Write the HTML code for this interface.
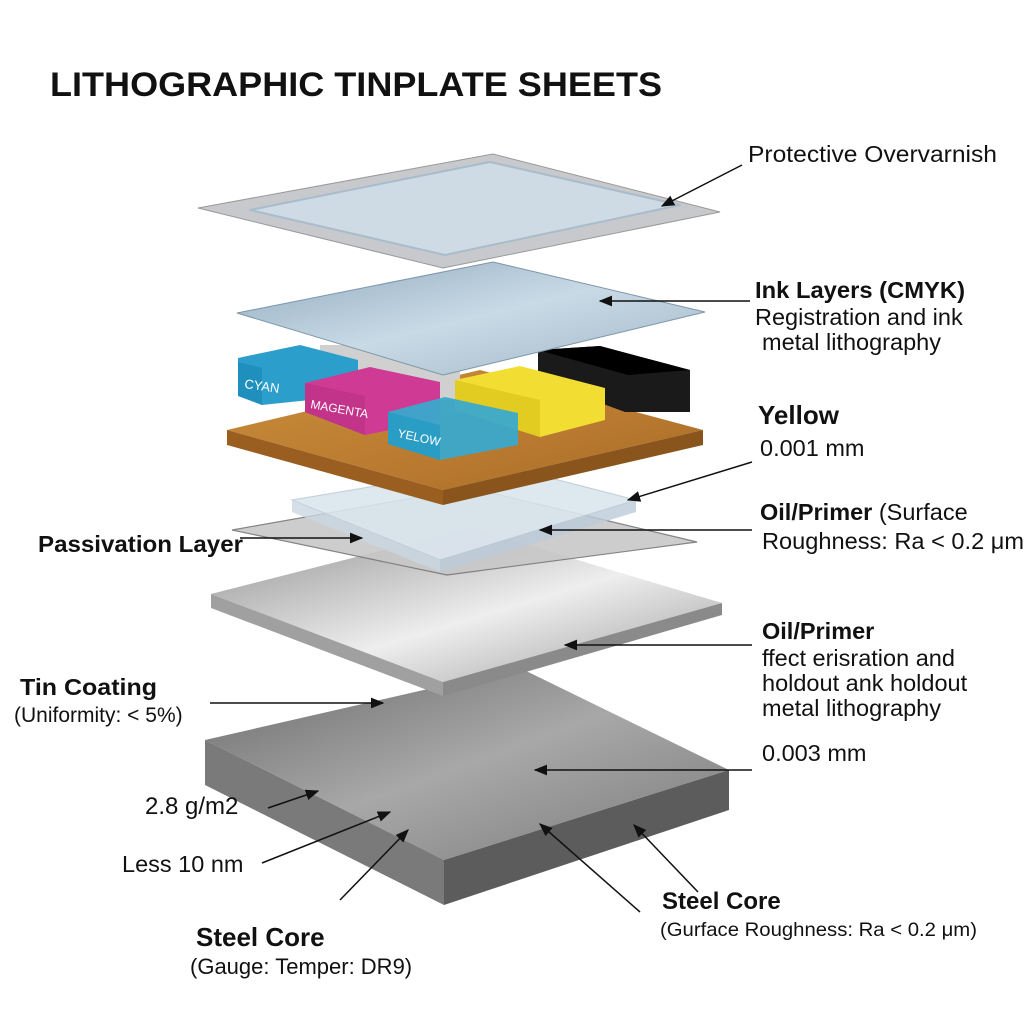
<!DOCTYPE html>
<html><head><meta charset="utf-8"><style>
html,body{margin:0;padding:0;background:#fff;}
svg{display:block}
text{font-family:"Liberation Sans",sans-serif;fill:#111}
.b{font-weight:bold}
</style></head><body>
<svg width="1024" height="1024" viewBox="0 0 1024 1024" xmlns="http://www.w3.org/2000/svg">
<defs>
<marker id="ar" viewBox="0 0 10 10" refX="9" refY="5" markerWidth="9" markerHeight="9" orient="auto-start-reverse"><path d="M0,1 L10,5 L0,9 z" fill="#111"/></marker>
<linearGradient id="steel" x1="0" y1="0" x2="1" y2="1"><stop offset="0" stop-color="#6a6a6a"/><stop offset="0.5" stop-color="#a8a8a8"/><stop offset="1" stop-color="#7a7a7a"/></linearGradient>
<linearGradient id="silver" x1="0" y1="0" x2="1" y2="1"><stop offset="0" stop-color="#8f8f8f"/><stop offset="0.55" stop-color="#eeeeee"/><stop offset="1" stop-color="#9a9a9a"/></linearGradient>
<linearGradient id="blue" x1="0" y1="0" x2="1" y2="1"><stop offset="0" stop-color="#8fa9bd"/><stop offset="0.5" stop-color="#c9dae6"/><stop offset="1" stop-color="#9fb5c6"/></linearGradient>
<linearGradient id="cork" x1="0" y1="0" x2="1" y2="1"><stop offset="0" stop-color="#c98d3a"/><stop offset="0.6" stop-color="#b97a30"/><stop offset="1" stop-color="#a76a25"/></linearGradient>
</defs>

<text x="50" y="96" font-size="34" class="b" textLength="612" lengthAdjust="spacingAndGlyphs">LITHOGRAPHIC TINPLATE SHEETS</text>

<polygon points="205,740 520,668 729,770 444,860" fill="url(#steel)"/>
<polygon points="205,740 444,860 444,905 205,785" fill="#7a7a7a"/>
<polygon points="444,860 729,770 729,810 444,905" fill="#5c5c5c"/>

<polygon points="211,594 470,528 722,603 443,682" fill="url(#silver)"/>
<polygon points="211,594 443,682 443,696 211,608" fill="#a0a0a0"/>
<polygon points="443,682 722,603 722,615 443,696" fill="#8a8a8a"/>

<polygon points="232,530 470,488 697,542 447,575" fill="#c8c8c8" stroke="#777" stroke-width="1.2" opacity="0.9"/>
<polygon points="292,500 500,465 636,500 440,560" fill="#dbe6ee" stroke="#b9c9d6" stroke-width="1" opacity="0.9"/>
<polygon points="292,500 440,560 440,572 292,512" fill="#c9d7e2" opacity="0.8"/>
<polygon points="440,560 636,500 636,512 440,572" fill="#bccbd8" opacity="0.8"/>

<polygon points="227,430 480,370 703,430 443,490" fill="url(#cork)"/>
<polygon points="227,430 443,490 443,505 227,445" fill="#9a5f20"/>
<polygon points="443,490 703,430 703,445 443,505" fill="#8a551c"/>

<polygon points="320,345 460,345 460,400 320,400" fill="#d0d0d0"/>
<polygon points="538,350 600,346 690,370 690,412 625,412 538,380" fill="#1a1a1a"/>
<polygon points="538,350 600,346 690,370 628,375" fill="#000"/>
<polygon points="238,358 300,345 358,360 358,395 262,405 238,395" fill="#2b9ecb"/>
<polygon points="238,362 262,368 262,405 238,396" fill="#1f8fbe"/>
<text x="244" y="388" font-size="13" style="fill:#fff" transform="rotate(8 244 388)">CYAN</text>
<polygon points="305,383 370,367 440,382 440,420 365,435 305,412" fill="#cf3a94"/>
<polygon points="305,383 365,396 365,435 305,412" fill="#c2338a"/>
<text x="310" y="408" font-size="12" style="fill:#fff" transform="rotate(10 310 408)">MAGENTA</text>
<polygon points="455,380 520,366 605,388 605,420 540,437 455,410" fill="#f2de33"/>
<polygon points="455,380 540,400 540,437 455,410" fill="#e2cc22"/>
<polygon points="388,412 445,397 518,413 518,445 440,460 388,444" fill="#3aa9cc" opacity="0.95"/>
<polygon points="388,412 440,425 440,460 388,444" fill="#2a9dc4"/>
<text x="397" y="437" font-size="12" style="fill:#fff" transform="rotate(12 397 437)">YELOW</text>

<polygon points="237,313 493,262 705,312 443,375" fill="url(#blue)" stroke="#7e95a8" stroke-width="1"/>

<polygon points="198,208 493,154 720,212 443,268" fill="#c7c9cc" stroke="#999" stroke-width="1"/>
<polygon points="250,210 490,162 680,205 445,255" fill="#cfdbe4" stroke="#a9bccb" stroke-width="2" stroke-linejoin="round"/>

<g font-size="23.5">
<text x="748" y="162" textLength="249" lengthAdjust="spacingAndGlyphs">Protective Overvarnish</text>
<text x="755" y="298" class="b" textLength="210" lengthAdjust="spacingAndGlyphs">Ink Layers (CMYK)</text>
<text x="755" y="325">Registration and ink</text>
<text x="762" y="350">metal lithography</text>
<text x="758" y="424" class="b" font-size="26">Yellow</text>
<text x="760" y="456">0.001 mm</text>
<text x="760" y="520" class="b">Oil/Primer <tspan font-weight="normal">(Surface</tspan></text>
<text x="762" y="549" textLength="262" lengthAdjust="spacingAndGlyphs">Roughness: Ra &lt; 0.2 μm</text>
<text x="762" y="639" class="b">Oil/Primer</text>
<text x="762" y="666">ffect erisration and</text>
<text x="762" y="691">holdout ank holdout</text>
<text x="762" y="716">metal lithography</text>
<text x="762" y="761">0.003 mm</text>
<text x="662" y="909" class="b" font-size="24">Steel Core</text>
<text x="660" y="936" font-size="19.5" textLength="317" lengthAdjust="spacingAndGlyphs">(Gurface Roughness: Ra &lt; 0.2 μm)</text>
<text x="38" y="552" class="b" textLength="205" lengthAdjust="spacingAndGlyphs">Passivation Layer</text>
<text x="20" y="695" class="b" textLength="137" lengthAdjust="spacingAndGlyphs">Tin Coating</text>
<text x="14" y="722" font-size="21">(Uniformity: &lt; 5%)</text>
<text x="145" y="814" font-size="24">2.8 g/m2</text>
<text x="122" y="872">Less 10 nm</text>
<text x="196" y="946" class="b" font-size="26">Steel Core</text>
<text x="190" y="974" font-size="22">(Gauge: Temper: DR9)</text>
</g>

<g stroke="#111" stroke-width="1.5" fill="none" marker-end="url(#ar)">
<line x1="742" y1="165" x2="662" y2="206"/>
<line x1="750" y1="301" x2="600" y2="301"/>
<line x1="752" y1="462" x2="628" y2="500"/>
<line x1="752" y1="530" x2="540" y2="530"/>
<line x1="752" y1="645" x2="565" y2="645"/>
<line x1="752" y1="770" x2="535" y2="770"/>
<line x1="240" y1="538" x2="362" y2="538"/>
<line x1="210" y1="703" x2="383" y2="703"/>
<line x1="268" y1="808" x2="318" y2="791"/>
<line x1="262" y1="863" x2="390" y2="812"/>
<line x1="340" y1="900" x2="408" y2="830"/>
<line x1="640" y1="912" x2="540" y2="824"/>
<line x1="698" y1="892" x2="634" y2="825"/>
</g>
</svg>
</body></html>
